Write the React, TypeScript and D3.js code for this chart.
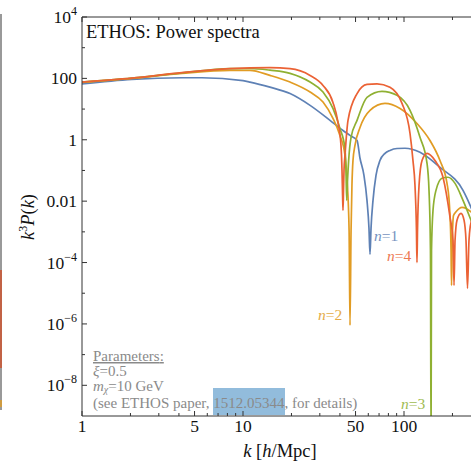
import React from 'react';
import * as d3 from 'd3';

// ---- data: [k (h/Mpc), k^3 P(k)] ----
const n1: [number, number][] = [
  [1, 66], [2.04, 93], [4.18, 105], [5.56, 105], [10, 84], [11.05, 76], [14.7, 52], [19.6, 32],
  [26.1, 13.2], [34.7, 4.3], [41.8, 2.0], [46.2, 1.39], [51.1, 0.95], [53.3, 0.25], [56.4, 0.069],
  [58.9, 0.0106], [60.6, 0.0013], [61.5, 1.85e-4], [62.4, 0.0013], [64.2, 0.0106], [67, 0.069],
  [70.9, 0.21], [76.2, 0.36], [81.8, 0.45], [90.5, 0.52], [101.4, 0.53], [125.7, 0.39],
  [167.3, 0.126], [232.6, 0.0225], [260.7, 0.0063], [296.5, 0.00112],
];
const n2: [number, number][] = [
  [1, 74], [2.04, 100], [4.18, 146], [8.3, 183], [11.05, 183], [14.7, 125], [19.6, 76], [26.1, 36],
  [31.4, 16.9], [36.2, 5.0], [40, 1.39], [43, 0.31], [44.3, 0.048], [45.6, 0.00112], [46.2, 9e-7],
  [46.9, 0.00112], [47.5, 0.033], [48.2, 0.21], [49.6, 0.66], [53.3, 2.5], [61.5, 9.1], [76.2, 15.3],
  [94.5, 10.5], [120.4, 3.4], [145, 0.95], [167.3, 0.21], [185, 0.038], [192, 0.006], [196, 2.5e-4],
  [197.4, 1.8e-5], [198.8, 2.5e-4], [203, 0.0034], [210.4, 0.0045], [229.3, 0.0063], [260.7, 0.0045],
  [296.5, 0.002],
];
const n3: [number, number][] = [
  [1, 76], [2.04, 102], [4.18, 152], [8.3, 207], [11, 210], [14.7, 185], [19.6, 146], [26.1, 76],
  [31.4, 36], [36.2, 10.5], [40, 2.35], [43, 0.52], [43.6, 0.1], [44.1, 0.0106], [44.6, 0.048],
  [45.3, 0.21], [46.9, 1.2], [51.1, 4.3], [58.9, 24], [73, 38], [90.5, 28], [109, 9.1], [125.7, 1.2],
  [139, 0.17], [143, 0.0225], [146, 2.5e-4], [147.2, 1e-10], [148.2, 2.5e-4], [151.4, 0.005],
  [158, 0.0225], [172.2, 0.056], [187.6, 0.06], [207.5, 0.038], [232.6, 0.0106], [260.7, 0.0024],
  [296.5, 5e-4],
];
const n4: [number, number][] = [
  [1, 76], [2.04, 102], [4.18, 154], [8.3, 207], [14.7, 223], [19.6, 207], [26.1, 125], [31.4, 59],
  [36.2, 16.5], [38.9, 3.7], [40.6, 0.66], [41.2, 0.1], [41.55, 0.015], [41.8, 0.005], [42.1, 0.0225],
  [42.4, 0.1], [43, 0.31], [44.9, 4.3], [51.1, 32], [58.9, 64], [68, 66], [81.8, 51], [97.2, 15.3],
  [109, 1.6], [113.7, 0.21], [117, 0.033], [119.5, 0.00112], [120.4, 1e-4], [121.3, 0.00112],
  [124, 0.033], [129.4, 0.21], [139, 0.36], [155.8, 0.21], [174.7, 0.06], [193.1, 0.003],
  [201.6, 5.3e-4], [204.5, 1.8e-5], [207.5, 5.3e-4], [213.4, 0.0024], [226, 0.004], [236, 0.0024],
  [242.7, 5.3e-4], [248, 1.45e-5], [253.3, 5.3e-4], [260.7, 0.002], [296.5, 0.0073],
];

const seriesNames = ['n=1', 'n=2', 'n=3', 'n=4'];
const seriesColors = ['#5E81B5', '#E19C24', '#8FB032', '#EB6235'];
const seriesData = [n1, n2, n3, n4];

const xMajor = [1, 5, 10, 50, 100, 500];
const xMinor = [2, 3, 4, 6, 7, 8, 9, 20, 30, 40, 60, 70, 80, 90, 200, 300, 400];
const xTickLabels: [number, string][] = [[1, '1'], [5, '5'], [10, '10'], [50, '50'], [100, '100']];
const yMajor = [1e4, 1e2, 1, 1e-2, 1e-4, 1e-6, 1e-8];
const yMinor = [1e3, 10, 0.1, 1e-3, 1e-5, 1e-7];
const yTickLabels: [number, string, string][] = [
  [1e4, '10', '4'], [1e2, '100', ''], [1, '1', ''], [1e-2, '0.01', ''],
  [1e-4, '10', '\u22124'], [1e-6, '10', '\u22126'], [1e-8, '10', '\u22128'],
];

const W = 471, H = 463;
const L = 82, T = 17, B = 416;
const FONT = '"Liberation Serif", "Times New Roman", serif';

export default function App() {
  const x = d3.scaleLog().domain([1, 1000]).range([L, L + 3 * 161]);
  const y = d3.scaleLog().domain([1e-9, 1e4]).range([B, T]);
  const line = d3.line<[number, number]>().x(d => x(d[0])).y(d => y(d[1])).curve(d3.curveMonotoneX);
  const axis = '#333';
  const labelPos: [number, number][] = [[374, 241], [318, 320], [401, 409], [387, 261]];

  return (
    <svg width={W} height={H} style={{ position: 'absolute', left: 0, top: 0, background: '#fff' }}
      fontFamily={FONT}>
      <defs>
        <clipPath id="plot"><rect x={L} y={T} width={W - L} height={B - T} /></clipPath>
      </defs>
      {/* neighbouring panel edge */}
      <line x1={1} x2={1} y1={14} y2={410} stroke="#777" strokeWidth={1.5} />
      <line x1={1} x2={1} y1={270} y2={368} stroke="#d0502a" strokeWidth={1.5} />
      <line x1={1} x2={1} y1={400} y2={407} stroke="#E19C24" strokeWidth={1.5} />

      {/* highlight box */}
      <rect x={213} y={388} width={72} height={27} fill="#92bcdc" />

      <g clipPath="url(#plot)">
        {seriesData.map((d, i) => (
          <path key={i} d={line(d) || ''} fill="none" stroke={seriesColors[i]} strokeWidth={1.7} />
        ))}
      </g>

      {/* frame */}
      <line x1={L} x2={L} y1={T} y2={B} stroke={axis} strokeWidth={1} />
      <line x1={L} x2={W} y1={B} y2={B} stroke={axis} strokeWidth={1} />
      <line x1={L} x2={W} y1={T} y2={T} stroke={axis} strokeWidth={1} />

      {xMajor.map(v => (
        <g key={'xM' + v}>
          <line x1={x(v)} x2={x(v)} y1={B} y2={B - 5} stroke={axis} />
          <line x1={x(v)} x2={x(v)} y1={T} y2={T + 5} stroke={axis} />
        </g>
      ))}
      {xMinor.map(v => (
        <g key={'xm' + v}>
          <line x1={x(v)} x2={x(v)} y1={B} y2={B - 3} stroke={axis} />
          <line x1={x(v)} x2={x(v)} y1={T} y2={T + 3} stroke={axis} />
        </g>
      ))}
      {yMajor.map(v => (
        <line key={'yM' + v} x1={L} x2={L + 5} y1={y(v)} y2={y(v)} stroke={axis} />
      ))}
      {yMinor.map(v => (
        <line key={'ym' + v} x1={L} x2={L + 3} y1={y(v)} y2={y(v)} stroke={axis} />
      ))}

      {xTickLabels.map(([v, s]) => (
        <text key={'xl' + v} x={x(v)} y={432} fontSize={17.5} textAnchor="middle" fill="#111">{s}</text>
      ))}
      {yTickLabels.map(([v, base, sup]) => (
        <text key={'yl' + v} x={77} y={y(v) + 6} fontSize={17.5} textAnchor="end" fill="#111">
          {base}
          {sup && <tspan dy={-8} fontSize={12}>{sup}</tspan>}
        </text>
      ))}

      {/* axis titles */}
      <text x={280} y={457} fontSize={18.5} textAnchor="middle" fill="#111">
        <tspan fontStyle="italic">k</tspan> [<tspan fontStyle="italic">h</tspan>/Mpc]
      </text>
      <text transform="translate(34,217) rotate(-90)" fontSize={18.5} textAnchor="middle" fill="#111">
        <tspan fontStyle="italic">k</tspan><tspan dy={-7} fontSize={12}>3</tspan>
        <tspan dy={7} fontStyle="italic">P</tspan>(<tspan fontStyle="italic">k</tspan>)
      </text>

      <text x={86} y={38} fontSize={18.5} fill="#111">ETHOS: Power spectra</text>

      {/* parameters */}
      <g fontSize={15} fill="#8a8a8a">
        <text x={93} y={361} textDecoration="underline">Parameters<tspan textDecoration="none">:</tspan></text>
        <text x={93} y={376}><tspan fontStyle="italic">ξ</tspan>=0.5</text>
        <text x={93} y={391}><tspan fontStyle="italic">m</tspan><tspan dy={2} fontSize={10} fontStyle="italic">χ</tspan><tspan dy={-2}>=10 GeV</tspan></text>
        <text x={93} y={407.5}>(see ETHOS paper, 1512.05344, for details)</text>
      </g>

      {seriesNames.map((nm, i) => (
        <text key={nm} x={labelPos[i][0]} y={labelPos[i][1]} fontSize={15.5} fill={seriesColors[i]} opacity={0.85}>
          <tspan fontStyle="italic">n</tspan>{nm.slice(1)}
        </text>
      ))}
    </svg>
  );
}
